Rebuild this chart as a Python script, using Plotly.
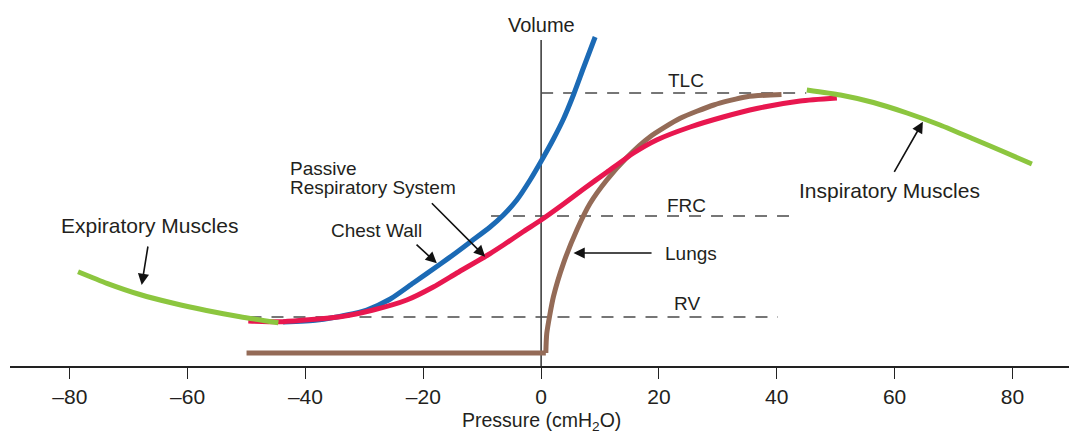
import plotly.graph_objects as go

# ---------------- data (pressure in cmH2O, volume in arbitrary units) ----------------
lungs_p = [-50, 0.8, 0.96, 2.09, 3.79, 6.06, 8.32, 11.15, 14.55, 18.5, 23.6, 29.3, 34.9, 40.8]
lungs_v = [13, 13, 32.7, 69.3, 102.7, 136, 162.7, 186, 208.5, 229.3, 247.7, 261, 269.3, 271.5]

chest_p = [-43.8, -38, -33, -29.6, -25.6, -21.7, -17.1, -14.5, -11.8, -8.66, -6.4, -4.13, -1.87, 0.12, 2.09, 3.79, 5.48, 7.18, 9.17]
chest_v = [44, 46, 51, 56, 67, 83, 102, 113, 125, 139, 151, 166, 186, 206, 227, 247, 271, 298, 329]

resp_p = [-49.7, -43.8, -34.1, -28.5, -22.8, -18.3, -14.3, -9.2, -6.4, -3.0, 0, 3.8, 7.2, 11.2, 15.7, 19.6, 25.3, 30.9, 36.6, 43.97, 50.2]
resp_v = [45, 44.3, 49.3, 56, 66, 79, 93, 110.5, 121, 134.5, 146, 162, 177, 194, 213, 226, 239, 249, 257.5, 265, 268]

exp_p = [-78.6, -73.7, -68.1, -62.4, -56.8, -51.1, -44.6]
exp_v = [94.3, 82.7, 71.5, 62.7, 55.5, 49.3, 43.3]

insp_p = [45.1, 50.8, 56.4, 62.1, 67.7, 73.4, 79.1, 83.3]
insp_v = [276, 271, 263.5, 253, 241, 227, 212.7, 202]

volume_axis_p = [0, 0]
volume_axis_v = [0, 326]

tlc_p, tlc_v = [0, 45], [273, 273]
frc_p, frc_v = [-8.5, 42.3], [150, 150]
rv_p, rv_v = [-49.5, 40.2], [49, 49]

tick_vals = [-80, -60, -40, -20, 0, 20, 40, 60, 80]
tick_text = ["–80", "–60", "–40", "–20", "0", "20", "40", "60", "80"]

BLUE = "#1B6AB5"
RED = "#E8174F"
GREEN = "#8CC63F"
BROWN = "#946B57"
TXT = "#231F20"
DASH = "#4A4A4A"
FONT = "Liberation Sans, Arial, Helvetica, sans-serif"

fig = go.Figure()

# volume axis
fig.add_trace(go.Scatter(x=volume_axis_p, y=volume_axis_v, mode="lines",
                         line=dict(color="#333333", width=1.5), hoverinfo="skip"))

# dashed reference lines
for px_, pv_ in [(tlc_p, tlc_v), (frc_p, frc_v), (rv_p, rv_v)]:
    fig.add_trace(go.Scatter(x=px_, y=pv_, mode="lines",
                             line=dict(color=DASH, width=1.3, dash="12px,10px"), hoverinfo="skip"))

SPL = dict(shape="spline", smoothing=0.6)
# lungs (flat part + rising curve)
fig.add_trace(go.Scatter(x=lungs_p[:2], y=lungs_v[:2], mode="lines",
                         line=dict(color=BROWN, width=5), hoverinfo="skip"))
fig.add_trace(go.Scatter(x=lungs_p[1:], y=lungs_v[1:], mode="lines",
                         line=dict(color=BROWN, width=5, **SPL), hoverinfo="skip"))
# chest wall
fig.add_trace(go.Scatter(x=chest_p, y=chest_v, mode="lines",
                         line=dict(color=BLUE, width=5, **SPL), hoverinfo="skip"))
# passive respiratory system
fig.add_trace(go.Scatter(x=resp_p, y=resp_v, mode="lines",
                         line=dict(color=RED, width=5, **SPL), hoverinfo="skip"))
# muscles
fig.add_trace(go.Scatter(x=exp_p, y=exp_v, mode="lines",
                         line=dict(color=GREEN, width=5, **SPL), hoverinfo="skip"))
fig.add_trace(go.Scatter(x=insp_p, y=insp_v, mode="lines",
                         line=dict(color=GREEN, width=5, **SPL), hoverinfo="skip"))

anns = []
# arrows: (head_x, head_y, tail_x, tail_y)
arrows = [(-67.8, 81, -66.7, 121),
          (-17.7, 102.7, -21.4, 122.7),
          (-9.5, 109.3, -18.8, 164.3),
          (5.5, 113, 19.0, 113),
          (64.8, 244.3, 59.8, 192.7)]
for hx, hy, tx, ty in arrows:
    anns.append(dict(x=hx, y=hy, ax=tx, ay=ty, xref="x", yref="y", axref="x", ayref="y",
                     text="", showarrow=True, arrowhead=2, arrowsize=1.4, arrowwidth=1.6,
                     arrowcolor="#111111"))

labels = [
    ("Expiratory Muscles", -66.5, 141, "center", 21),
    ("Chest Wall", -28.0, 136, "center", 19),
    ("Passive", -43.0, 198, "left", 19),
    ("Respiratory System", -43.0, 179, "left", 19),
    ("Lungs", 20.7, 113, "left", 19),
    ("Inspiratory Muscles", 59.1, 176, "center", 21),
    ("TLC", 24.6, 286, "center", 19),
    ("FRC", 24.7, 161, "center", 19),
    ("RV", 24.8, 62.5, "center", 19),
    ("Volume", 0, 341.5, "center", 20),
]
for t, x, y, anc, fs in labels:
    anns.append(dict(x=x, y=y, xref="x", yref="y", text=t, showarrow=False,
                     xanchor=anc, yanchor="middle",
                     font=dict(family=FONT, size=fs, color=TXT)))

# x-axis title
anns.append(dict(x=0, y=-0.153, xref="x", yref="paper", text="Pressure (cmH<sub>2</sub>O)",
                 showarrow=False, xanchor="center", yanchor="middle",
                 font=dict(family=FONT, size=19.5, color=TXT)))

fig.update_layout(
    width=1069, height=434,
    margin=dict(l=10, r=0, t=0, b=68),
    paper_bgcolor="white", plot_bgcolor="white",
    showlegend=False,
    annotations=anns,
    xaxis=dict(range=[-90.15, 89.6], showgrid=False, zeroline=False,
               showline=True, linecolor="#222222", linewidth=1.5,
               ticks="outside", ticklen=11, tickwidth=1.2, tickcolor="#222222",
               tickvals=tick_vals, ticktext=tick_text, automargin=False,
               tickfont=dict(family=FONT, size=21, color=TXT)),
    yaxis=dict(range=[0, 366], visible=False),
)

fig.write_html("out.html", config={"displayModeBar": False},
               post_script="document.body.style.margin='0px';")
